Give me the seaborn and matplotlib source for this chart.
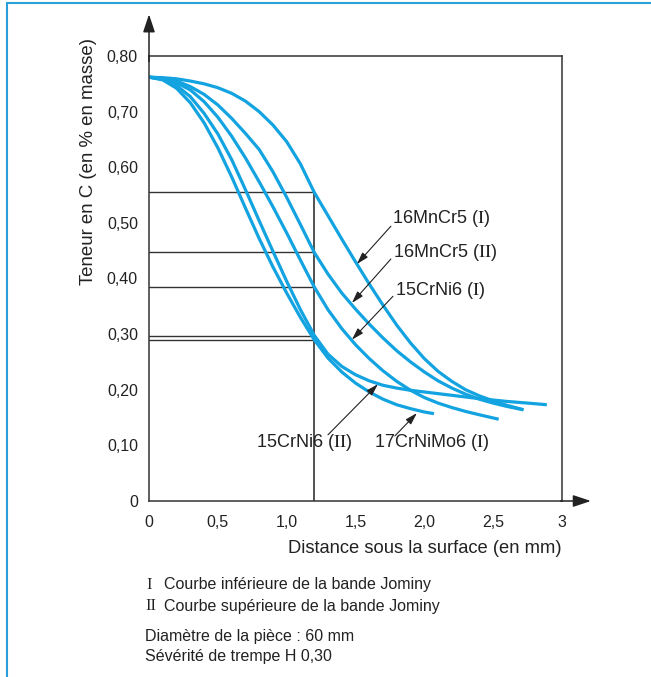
import matplotlib
matplotlib.use("Agg")
import matplotlib.pyplot as plt
import seaborn as sns
import pandas as pd
from matplotlib.lines import Line2D

# ---------------- data ----------------
x_17CrNiMo6_I = [0, 0.1, 0.2, 0.3, 0.4, 0.5, 0.6, 0.7, 0.8, 0.9, 1.0, 1.1, 1.2, 1.3, 1.4, 1.5, 1.6, 1.7, 1.8, 1.9, 2.0, 2.07]
y_17CrNiMo6_I = [0.762, 0.757, 0.742, 0.716, 0.680, 0.635, 0.583, 0.527, 0.472, 0.421, 0.374, 0.330, 0.290, 0.257, 0.232, 0.212, 0.196, 0.183, 0.173, 0.166, 0.160, 0.157]

x_15CrNi6_II = [0, 0.1, 0.2, 0.3, 0.4, 0.5, 0.6, 0.7, 0.8, 0.9, 1.0, 1.1, 1.2, 1.3, 1.4, 1.5, 1.6, 1.7, 1.8, 1.9, 2.0, 2.2, 2.4, 2.6, 2.8, 2.89]
y_15CrNi6_II = [0.762, 0.758, 0.747, 0.727, 0.697, 0.660, 0.614, 0.560, 0.504, 0.449, 0.395, 0.344, 0.298, 0.264, 0.242, 0.227, 0.216, 0.208, 0.203, 0.199, 0.196, 0.190, 0.184, 0.179, 0.175, 0.173]

x_15CrNi6_I = [0, 0.1, 0.2, 0.3, 0.4, 0.5, 0.6, 0.7, 0.8, 0.9, 1.0, 1.1, 1.2, 1.3, 1.4, 1.5, 1.6, 1.7, 1.8, 1.9, 2.0, 2.1, 2.2, 2.3, 2.4, 2.54]
y_15CrNi6_I = [0.762, 0.759, 0.752, 0.739, 0.718, 0.690, 0.656, 0.617, 0.574, 0.529, 0.482, 0.433, 0.385, 0.344, 0.310, 0.281, 0.256, 0.234, 0.215, 0.199, 0.186, 0.176, 0.168, 0.161, 0.155, 0.147]

x_16MnCr5_II = [0, 0.1, 0.2, 0.3, 0.4, 0.5, 0.6, 0.7, 0.8, 0.9, 1.0, 1.1, 1.2, 1.3, 1.4, 1.5, 1.6, 1.7, 1.8, 1.9, 2.0, 2.1, 2.2, 2.3, 2.4, 2.5, 2.6, 2.72]
y_16MnCr5_II = [0.762, 0.760, 0.755, 0.745, 0.731, 0.712, 0.688, 0.661, 0.632, 0.592, 0.546, 0.497, 0.447, 0.408, 0.374, 0.345, 0.318, 0.293, 0.270, 0.250, 0.232, 0.216, 0.203, 0.192, 0.183, 0.176, 0.170, 0.164]

x_16MnCr5_I = [0, 0.1, 0.2, 0.3, 0.4, 0.5, 0.6, 0.7, 0.8, 0.9, 1.0, 1.1, 1.2, 1.3, 1.4, 1.5, 1.6, 1.7, 1.8, 1.9, 2.0, 2.1, 2.2, 2.3, 2.4, 2.5, 2.6, 2.72]
y_16MnCr5_I = [0.762, 0.761, 0.759, 0.755, 0.750, 0.743, 0.733, 0.719, 0.700, 0.676, 0.646, 0.606, 0.555, 0.513, 0.471, 0.430, 0.390, 0.352, 0.316, 0.284, 0.256, 0.233, 0.215, 0.200, 0.189, 0.180, 0.172, 0.164]

# reference lines at 1.2 mm
ref_x = 1.2
ref_levels = [0.555, 0.447, 0.385, 0.297, 0.290]

x_ticks = [0, 0.5, 1.0, 1.5, 2.0, 2.5, 3]
x_tick_labels = ["0", "0,5", "1,0", "1,5", "2,0", "2,5", "3"]
y_ticks = [0, 0.1, 0.2, 0.3, 0.4, 0.5, 0.6, 0.7, 0.8]
y_tick_labels = ["0", "0,10", "0,20", "0,30", "0,40", "0,50", "0,60", "0,70", "0,80"]

curve_names = ["17CrNiMo6 (I)", "15CrNi6 (II)", "15CrNi6 (I)", "16MnCr5 (II)", "16MnCr5 (I)"]
curves = [(x_17CrNiMo6_I, y_17CrNiMo6_I), (x_15CrNi6_II, y_15CrNi6_II),
          (x_15CrNi6_I, y_15CrNi6_I), (x_16MnCr5_II, y_16MnCr5_II),
          (x_16MnCr5_I, y_16MnCr5_I)]

df = pd.concat([pd.DataFrame({"x": xs, "y": ys, "courbe": n})
                for n, (xs, ys) in zip(curve_names, curves)], ignore_index=True)

# ---------------- styling ----------------
sns.set_theme(style="white")
plt.rcParams['font.family'] = ['Liberation Sans', 'DejaVu Sans']
plt.rcParams['mathtext.fontset'] = 'stix'

W, H = 651, 677
fig = plt.figure(figsize=(W / 100, H / 100), dpi=100)
fig.patch.set_facecolor("white")

x0_px, x3_px = 149, 562
y0_px, y8_px = 501, 56
ax = fig.add_axes([x0_px / W, 1 - y0_px / H, (x3_px - x0_px) / W, (y0_px - y8_px) / H])
ax.set_facecolor("white")

BLUE = "#12a3e0"
DARK = "#333333"
TXT = "#222222"

sns.lineplot(data=df, x="x", y="y", hue="courbe", units="courbe", estimator=None,
             palette=[BLUE] * len(curve_names), legend=False, lw=2.3, sort=True, ax=ax)
for ln in ax.get_lines():
    ln.set_solid_joinstyle("round")
    ln.set_solid_capstyle("butt")

# reference lines
for lv in ref_levels:
    ax.plot([0, ref_x], [lv, lv], color=DARK, lw=1.0, zorder=1)
ax.plot([ref_x, ref_x], [0, max(ref_levels)], color=DARK, lw=1.2, zorder=1)

ax.set_xlim(0, 3)
ax.set_ylim(0, 0.8)
for s in ax.spines.values():
    s.set_color(DARK)
    s.set_linewidth(1.1)

ax.set_xticks(x_ticks)
ax.set_xticklabels(x_tick_labels)
ax.set_yticks(y_ticks)
ax.set_yticklabels(y_tick_labels)
ax.tick_params(axis="both", direction="out", length=5, width=1.0, color=DARK,
               labelsize=11.5, labelcolor=TXT)
ax.tick_params(axis="x", pad=5)
ax.tick_params(axis="y", pad=3)
ax.set_xlabel("")
ax.set_ylabel("")

# axis arrows
arrow_kw = dict(arrowstyle="-|>,head_length=0.9,head_width=0.3", color=TXT, lw=1.1,
                shrinkA=0, shrinkB=0)
ax.annotate("", xy=(0, 0.875), xytext=(0, 0.79), arrowprops=arrow_kw, annotation_clip=False)
ax.annotate("", xy=(3.21, 0), xytext=(2.99, 0), arrowprops=arrow_kw, annotation_clip=False)

# axis titles
ax.text(3.0, -0.086, "Distance sous la surface (en mm)", ha="right", va="center",
        fontsize=13.2, color=TXT)
ax.text(-0.443, 0.61, "Teneur en C (en % en masse)", rotation=90, ha="center",
        va="center", fontsize=13.4, color=TXT)

# curve labels with arrows
lab_kw = dict(fontsize=13, color=TXT, va="center")
ptr = dict(arrowstyle="-|>,head_length=0.6,head_width=0.18", color=TXT, lw=0.8,
           shrinkA=0, shrinkB=0)
labels = [
    (r"16MnCr5 ($\mathrm{I}$)", (1.765, 0.507), "left", (1.757, 0.494), (1.51, 0.426)),
    (r"16MnCr5 ($\mathrm{II}$)", (1.772, 0.446), "left", (1.757, 0.435), (1.474, 0.356)),
    (r"15CrNi6 ($\mathrm{I}$)", (1.786, 0.379), "left", (1.772, 0.368), (1.474, 0.290)),
    (r"15CrNi6 ($\mathrm{II}$)", (1.126, 0.106), "center", (1.30, 0.119), (1.663, 0.210)),
    (r"17CrNiMo6 ($\mathrm{I}$)", (2.05, 0.106), "center", (1.786, 0.117), (1.946, 0.158)),
]
for txt, pos, ha, start, tip in labels:
    ax.text(pos[0], pos[1], txt, ha=ha, **lab_kw)
    ax.annotate("", xy=tip, xytext=start, arrowprops=ptr, annotation_clip=False)

# notes below the chart
def ftxt(px, py, s, **kw):
    fig.text(px / W, 1 - py / H, s, va="center", ha="left", color=TXT, **kw)

ftxt(146, 585, "I", fontsize=12, family="Liberation Serif")
ftxt(164, 585, "Courbe inférieure de la bande Jominy", fontsize=11.5)
ftxt(145, 606, "II", fontsize=12, family="Liberation Serif")
ftxt(164, 606, "Courbe supérieure de la bande Jominy", fontsize=11.5)
ftxt(145, 636, "Diamètre de la pièce : 60 mm", fontsize=11.5)
ftxt(145, 657, "Sévérité de trempe H 0,30", fontsize=11.5)

# blue page border (left and top)
fig.add_artist(Line2D([7 / W, 7 / W], [0, 1 - 3 / H], color="#2a9fd8", lw=1.5))
fig.add_artist(Line2D([7 / W, 1], [1 - 3 / H, 1 - 3 / H], color="#2a9fd8", lw=1.5))

fig.savefig("out.png", dpi=100)
